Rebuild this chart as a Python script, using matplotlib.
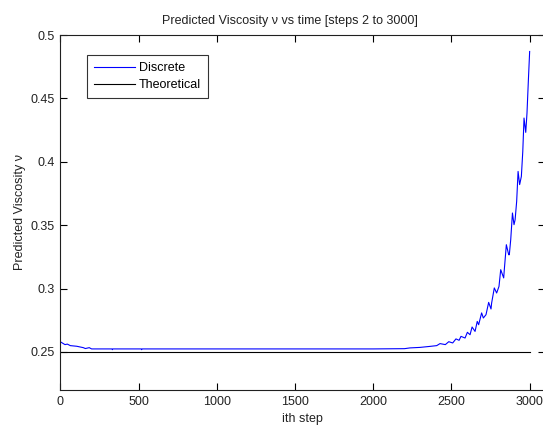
import matplotlib
matplotlib.use("Agg")
import matplotlib.pyplot as plt

plt.rcParams['font.family'] = ['Liberation Sans', 'DejaVu Sans']

steps = [2, 30, 45, 64, 105, 147, 160, 185, 200, 330, 333, 336, 517, 520, 523,
         800, 1200, 1600, 2000, 2200, 2235, 2299, 2363, 2406, 2427, 2461, 2483,
         2508, 2529, 2549, 2561, 2587, 2602, 2619, 2632, 2651, 2665, 2674, 2693,
         2704, 2721, 2738, 2753, 2757, 2774, 2789, 2804, 2815, 2834, 2838, 2851,
         2866, 2870, 2879, 2890, 2900, 2907, 2917, 2926, 2936, 2947, 2956, 2964,
         2975, 2983, 2992, 3000]
discrete = [0.2579, 0.2558, 0.2562, 0.2550, 0.2545, 0.2534, 0.2527, 0.2534, 0.2524,
            0.2524, 0.2518, 0.2524, 0.2524, 0.2518, 0.2524,
            0.2524, 0.2524, 0.2524, 0.2524, 0.2526, 0.2532, 0.2536, 0.2544, 0.2550,
            0.2566, 0.2558, 0.2581,
            0.2571, 0.2603, 0.2592, 0.2623, 0.2610, 0.2655, 0.2636, 0.2697, 0.2662,
            0.2741, 0.2715, 0.2808,
            0.2768, 0.2794, 0.2891, 0.2839, 0.2886, 0.3005, 0.2965, 0.3017, 0.3149,
            0.3084, 0.3149, 0.3346,
            0.3267, 0.3267, 0.3386, 0.3596, 0.3504, 0.3543, 0.3688, 0.3924, 0.3820,
            0.3885, 0.4080, 0.4345,
            0.4232, 0.4385, 0.4648, 0.4870]
theory_x = [2, 3000]
theory_y = [0.25, 0.25]

xticks = [0, 500, 1000, 1500, 2000, 2500, 3000]
yticks = [0.25, 0.3, 0.35, 0.4, 0.45, 0.5]
ytick_labels = ['0.25', '0.3', '0.35', '0.4', '0.45', '0.5']

W, H = 543, 425
fig = plt.figure(figsize=(W / 100, H / 100), dpi=100)
left, right, top, bottom = 60.3, 545.3, 35, 390
ax = fig.add_axes([left / W, 1 - bottom / H, (right - left) / W, (bottom - top) / H])

ax.plot(steps, discrete, color='#0000ff', lw=0.8, label='Discrete')
ax.plot(theory_x, theory_y, color='black', lw=0.8, label='Theoretical')

ax.set_xlim(0, 3100)
ax.set_ylim(0.22, 0.5)
ax.set_xticks(xticks)
ax.set_xticklabels([str(t) for t in xticks])
ax.set_yticks(yticks)
ax.set_yticklabels(ytick_labels)
ax.tick_params(direction='in', length=5, width=0.8, top=True, right=True,
               labelsize=9, pad=4, colors='black', labelcolor='#222222')
for s in ax.spines.values():
    s.set_color('#202020')
    s.set_linewidth(0.8)

ax.set_title('Predicted Viscosity ν vs time [steps 2 to 3000]', fontsize=9,
             x=(290 - left) / (right - left), pad=8, color='#222222')
ax.set_xlabel('ith step', fontsize=9, labelpad=4, color='#222222')
ax.set_ylabel('Predicted Viscosity ν', fontsize=9, labelpad=3, color='#222222')

leg = ax.legend(loc='upper left', bbox_to_anchor=(87 / W, 1 - 55 / H),
                bbox_transform=fig.transFigure, fontsize=9, frameon=True,
                fancybox=False, shadow=False, handlelength=3.3,
                handletextpad=0.3, borderpad=0.55, labelspacing=0.45,
                borderaxespad=0)
leg.get_frame().set_edgecolor('black')
leg.get_frame().set_linewidth(0.8)

fig.savefig('out.png', dpi=100)
